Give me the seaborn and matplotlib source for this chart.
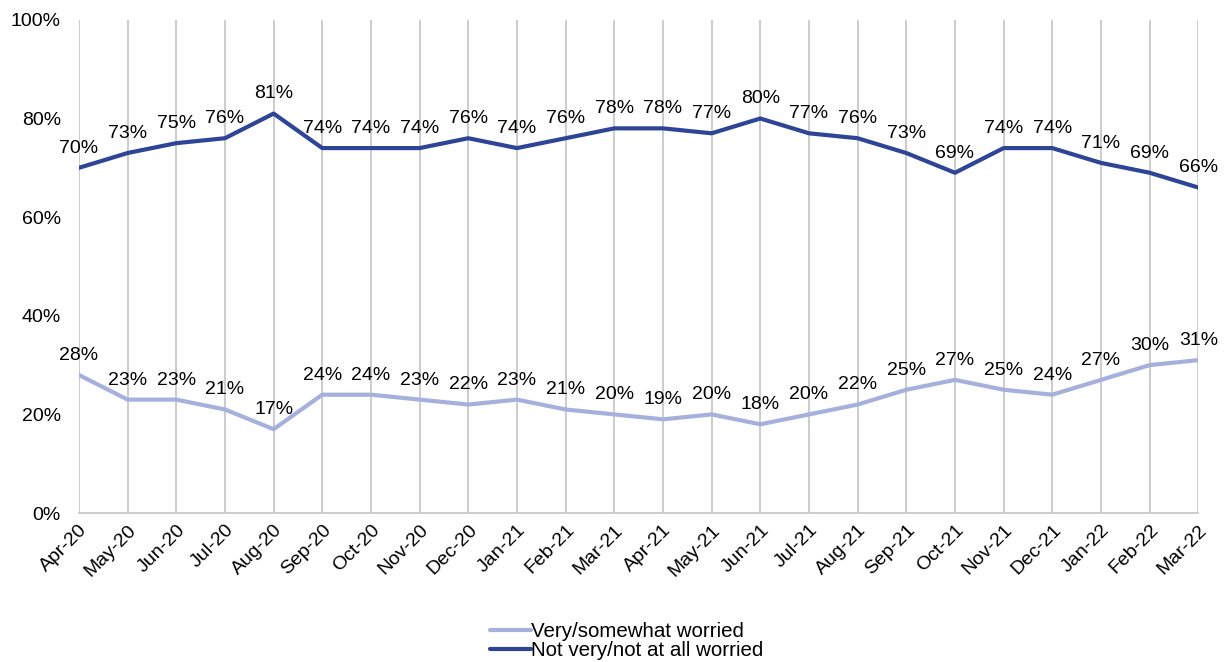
import matplotlib
matplotlib.use("Agg")
import matplotlib.pyplot as plt
import seaborn as sns
import pandas as pd

months = ["Apr-20","May-20","Jun-20","Jul-20","Aug-20","Sep-20","Oct-20","Nov-20","Dec-20",
          "Jan-21","Feb-21","Mar-21","Apr-21","May-21","Jun-21","Jul-21","Aug-21","Sep-21",
          "Oct-21","Nov-21","Dec-21","Jan-22","Feb-22","Mar-22"]
worried = [28,23,23,21,17,24,24,23,22,23,21,20,19,20,18,20,22,25,27,25,24,27,30,31]
not_worried = [70,73,75,76,81,74,74,74,76,74,76,78,78,77,80,77,76,73,69,74,74,71,69,66]
series_names = ["Very/somewhat worried", "Not very/not at all worried"]
colors = ["#A6B0DD", "#2E4496"]

sns.set_theme(style="white")
plt.rcParams['font.family'] = ['Liberation Sans', 'DejaVu Sans']

df = pd.DataFrame({
    "month": months * 2,
    "x": list(range(len(months))) * 2,
    "value": worried + not_worried,
    "series": [series_names[0]] * len(months) + [series_names[1]] * len(months),
})

fig = plt.figure(figsize=(12.24, 6.62), dpi=100)
ax = fig.add_axes([0.0645, 0.225, 0.9145, 0.745])

sns.lineplot(data=df, x="x", y="value", hue="series", palette=colors,
             linewidth=3, ax=ax, legend=True)

for vals in (worried, not_worried):
    for i, v in enumerate(vals):
        ax.annotate(f"{v}%", (i, v), xytext=(0, 8), textcoords="offset points",
                    ha="center", va="bottom", fontsize=14, color="black")

ax.set_xlim(0, len(months) - 1)
ax.set_ylim(0, 100)
ax.set_xticks(range(len(months)))
ax.set_xticklabels(months, rotation=45, ha="right", rotation_mode="anchor", fontsize=14, color="black")
ax.set_yticks([0, 20, 40, 60, 80, 100])
ax.set_yticklabels([f"{t}%" for t in [0, 20, 40, 60, 80, 100]], fontsize=14, color="black")
ax.tick_params(axis="x", pad=6, length=0)
ax.tick_params(axis="y", pad=13, length=0)
ax.set_xlabel("")
ax.set_ylabel("")
ax.grid(axis="x", color="#C8C8C8", linewidth=1.3)
ax.grid(axis="y", visible=False)
for s in ["top", "right", "left"]:
    ax.spines[s].set_visible(False)
ax.spines["bottom"].set_color("#C8C8C8")
ax.spines["bottom"].set_linewidth(1.3)

leg = ax.legend(loc="upper center", bbox_to_anchor=(0.489, -0.205), frameon=False,
                fontsize=14.8, handlelength=2.0, handletextpad=0.0, labelspacing=0.0,
                borderaxespad=0)
for t in leg.get_texts():
    t.set_color("black")

fig.savefig("out.png", dpi=100)
